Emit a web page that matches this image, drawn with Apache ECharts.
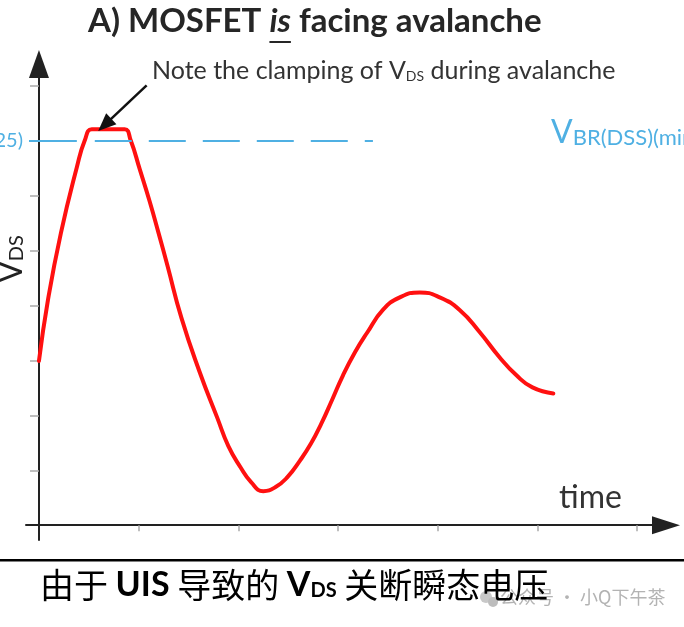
<!DOCTYPE html>
<html><head><meta charset="utf-8">
<script src="https://cdn.jsdelivr.net/npm/echarts@6/dist/echarts.min.js"></script>
<style>html,body{margin:0;padding:0;background:#fff}#c{width:684px;height:627px}</style>
</head><body><div id="c"></div>
<script>
// ---- data (time in tick units, VDS in tick units) ----
const timeValues = [0, 0.09, 0.22, 0.38, 0.46, 0.53, 0.69, 0.86, 0.92, 1.01, 1.11, 1.20, 1.29, 1.43, 1.61, 1.79, 1.90, 2.02, 2.13, 2.25, 2.37, 2.49, 2.62, 2.73, 2.83, 2.94, 3.05, 3.17, 3.29, 3.45, 3.62, 3.82, 4.02, 4.22, 4.42, 4.62, 4.79, 4.95, 5.16];
const vdsValues  = [2.99, 4.10, 5.32, 6.52, 7.01, 7.21, 7.21, 7.21, 7.01, 6.49, 5.90, 5.32, 4.72, 3.77, 2.80, 1.95, 1.44, 1.06, 0.78, 0.62, 0.69, 0.87, 1.18, 1.49, 1.84, 2.28, 2.73, 3.15, 3.50, 3.92, 4.15, 4.24, 4.15, 3.92, 3.52, 3.06, 2.73, 2.51, 2.40];
const xTickValues = [1, 2, 3, 4, 5, 6];
const yTickValues = [1, 2, 3, 4, 5, 6, 7, 8];
const clampLevel = 7;
const clampLabel = '25)';
const dashSolidStart = -0.1, dashSolidEnd = 0.38, dashStart = 0.56, dashEnd = 3.35;
const noteFrom = [1.08, 8.01], noteTo = [0.66, 7.29];

const LATIN = 'Lato, "Open Sans", sans-serif';
const CJK = '"Noto Sans CJK SC", sans-serif';
const CYAN = '#4fb0e3';

const chart = echarts.init(document.getElementById('c'), null, {renderer: 'canvas'});

// measure title pieces for the underline under "is"
const ctx = document.createElement('canvas').getContext('2d');
function w(text, font) { ctx.font = font; return ctx.measureText(text).width; }
const tFontB = 'bold 33px ' + LATIN;
const tFontI = 'italic bold 33px ' + LATIN;
const titleA = 'A) MOSFET ', titleIs = 'is', titleB = ' facing avalanche';
const titleLeft = 88;
const isX0 = titleLeft + w(titleA, tFontB);
const isX1 = isX0 + w(titleIs, tFontI);

const option = {
  animation: false,
  grid: {left: 26, right: 18, top: 64, bottom: 87, containLabel: false, outerBoundsMode: 'none'},
  xAxis: {
    type: 'value', min: -0.13, max: 6.29,
    axisLine: {onZero: true, symbol: ['none', 'triangle'], symbolSize: [18, 28],
      lineStyle: {color: '#222', width: 2}},
    axisTick: {show: true, customValues: xTickValues, length: 6, inside: false,
      lineStyle: {color: '#aaa', width: 1.5}},
    axisLabel: {show: false},
    splitLine: {show: false}
  },
  yAxis: {
    type: 'value', min: -0.27, max: 8.4,
    axisLine: {onZero: true, symbol: ['none', 'triangle'], symbolSize: [20, 28],
      lineStyle: {color: '#222', width: 2}},
    axisTick: {show: true, customValues: yTickValues, length: 9,
      lineStyle: {color: '#aaa', width: 1.5}},
    axisLabel: {show: true, customValues: [clampLevel], formatter: () => clampLabel,
      color: CYAN, fontSize: 20, fontFamily: LATIN, margin: 3},
    splitLine: {show: false}
  },
  series: [
    {
      type: 'line', data: [], z: 1, silent: true,
      markLine: {
        silent: true, symbol: ['none', 'none'], label: {show: false},
        lineStyle: {color: CYAN, width: 2, type: 'solid'},
        data: [
          [{coord: [dashSolidStart, clampLevel]}, {coord: [dashSolidEnd, clampLevel]}],
          [{coord: [dashStart, clampLevel], lineStyle: {type: [37, 17], color: CYAN, width: 2}},
           {coord: [dashEnd, clampLevel]}]
        ]
      }
    },
    {
      type: 'line', z: 3,
      data: timeValues.map((t, i) => [t, vdsValues[i]]),
      showSymbol: false, smooth: 0.5,
      lineStyle: {color: '#ff1010', width: 4, cap: 'round', join: 'round'}
    },
    {
      type: 'line', data: [], z: 4, silent: true,
      markLine: {
        silent: true, symbol: ['none', 'triangle'], symbolSize: [15, 18],
        label: {show: false},
        lineStyle: {color: '#111', width: 2.5, type: 'solid'},
        data: [[{coord: noteFrom}, {coord: noteTo}]]
      }
    }
  ],
  graphic: [
    // title
    {type: 'text', left: titleLeft, top: 5, style: {
      text: '{b|' + titleA + '}{i|' + titleIs + '}{b|' + titleB + '}',
      rich: {
        b: {font: tFontB, fill: '#262626'},
        i: {font: tFontI, fill: '#262626'}
      }}},
    {type: 'line', shape: {x1: isX0, y1: 42, x2: isX1, y2: 42},
      style: {stroke: '#262626', lineWidth: 2}},
    // note
    {type: 'text', left: 152, top: 58, style: {
      text: '{a|Note the clamping of V}{s|DS}{a| during avalanche}',
      rich: {
        a: {fontSize: 25, fontFamily: LATIN, fill: '#333', lineHeight: 28},
        s: {fontSize: 14, fontFamily: LATIN, fill: '#333', lineHeight: 28, padding: [11, 0, 0, 0]}
      }}},
    // right label
    {type: 'text', left: 551, top: 116, style: {
      text: '{v|V}{s|BR(DSS)(min)}',
      rich: {
        v: {fontSize: 32, fontFamily: LATIN, fill: CYAN, lineHeight: 36},
        s: {fontSize: 22, fontFamily: LATIN, fill: CYAN, lineHeight: 36, padding: [11, 0, 0, 0]}
      }}},
    // y axis label
    {type: 'text', x: 12, y: 259, rotation: Math.PI / 2, style: {
      text: '{v|V}{s|DS}', align: 'center', verticalAlign: 'middle',
      rich: {
        v: {fontSize: 32, fontFamily: LATIN, fill: '#222', lineHeight: 34},
        s: {fontSize: 20, fontFamily: LATIN, fill: '#222', lineHeight: 34, padding: [10, 0, 0, 0]}
      }}},
    // time label
    {type: 'text', left: 559, top: 482, style: {
      text: 'time', font: '32px ' + LATIN, fill: '#333'}},
    // separator
    {type: 'rect', shape: {x: 0, y: 559, width: 684, height: 2.5}, style: {fill: '#000'}},
    // watermark icon + text
    {type: 'circle', shape: {cx: 486, cy: 597, r: 6}, style: {fill: '#c8c8c8'}},
    {type: 'circle', shape: {cx: 493, cy: 602, r: 5}, style: {fill: '#bdbdbd'}},
    {type: 'text', left: 500, top: 588, style: {
      text: '公众号 · 小Q下午茶', font: '18px ' + CJK, fill: '#b3b3b3'}},
    // caption
    {type: 'text', left: 40, top: 568, z: 10, style: {
      text: '{c|由于 }{b|UIS}{c| 导致的 }{b|V}{bs|DS}{c| 关断瞬态电压}',
      rich: {
        c: {font: '34px ' + CJK, fill: '#000', lineHeight: 44},
        b: {font: 'bold 34px ' + LATIN, fill: '#000', lineHeight: 44},
        bs: {font: 'bold 20px ' + LATIN, fill: '#000', lineHeight: 44, padding: [12, 0, 0, 0]}
      }}}
  ]
};
chart.setOption(option);
</script></body></html>
